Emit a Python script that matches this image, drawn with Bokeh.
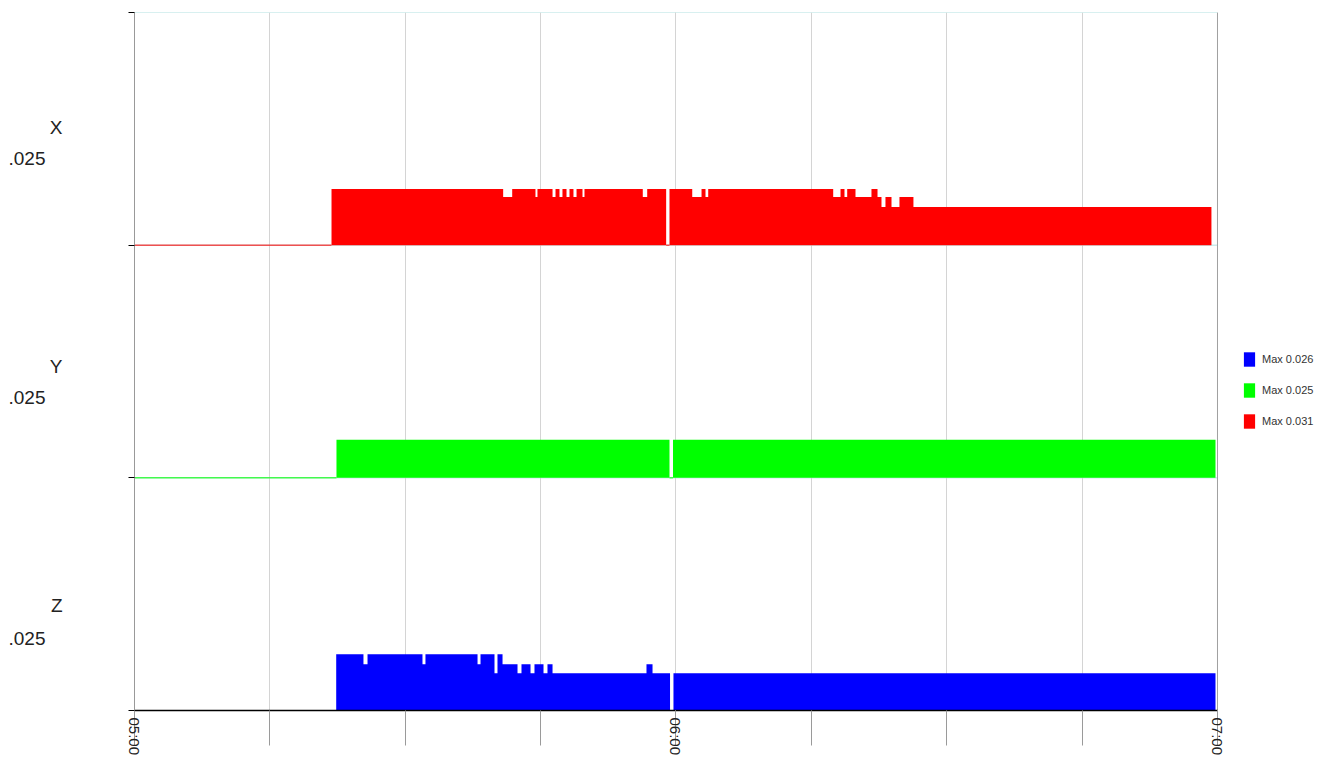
import datetime as dt
from bokeh.plotting import figure
from bokeh.models import (Range1d, FixedTicker, DatetimeTickFormatter, ColumnDataSource,
                          Legend, LegendItem, LinearAxis, CustomJSTickFormatter)
from bokeh.embed import file_html
from bokeh.resources import INLINE

# ---------------- data (minutes after 05:00) ----------------
START = dt.datetime(2024, 1, 1, 5, 0)
END_MINUTES = 120
VIEW_END_MINUTES = 132.19   # frame extends right to hold the legend
major_tick_minutes = [0, 60, 120]
minor_tick_minutes = [0, 15, 30, 45, 60, 75, 90, 105, 120]

bands = ["X", "Y", "Z"]
band_colors = ["#ff0000", "#00ff00", "#0000ff"]
band_value_text = [".025", ".025", ".025"]
band_span = 0.1284

red_edges = [0, 21.83, 40.85, 41.85, 44.43, 44.65, 46.32, 46.65, 47.09, 47.42, 47.87, 48.20,
             48.64, 48.98, 49.64, 49.86, 56.32, 56.81, 58.91, 59.28, 61.80, 62.83, 63.27, 63.57,
             77.42, 78.23, 78.67, 78.97, 79.89, 81.66, 82.33, 82.77, 83.21, 83.88, 84.76, 86.31,
             119.33]
red_values = [0, 0.031, 0.0266, 0.031, 0.0266, 0.031, 0.0266, 0.031, 0.0266, 0.031, 0.0266, 0.031,
              0.0266, 0.031, 0.0266, 0.031, 0.0266, 0.031, 0, 0.031, 0.0266, 0.031, 0.0266, 0.031,
              0.0266, 0.031, 0.0266, 0.031, 0.0266, 0.031, 0.0266, 0.021, 0.0266, 0.021, 0.0266, 0.021]

green_edges = [0, 22.38, 59.28, 59.67, 119.78]
green_values = [0, 0.021, 0, 0.021]

blue_edges = [0, 22.35, 25.37, 25.82, 31.91, 32.24, 38.01, 38.34, 39.89, 40.22, 40.78, 42.44,
              42.88, 43.88, 44.32, 45.32, 45.76, 46.32, 56.73, 57.40, 59.34, 59.72, 119.78]
blue_values = [0, 0.031, 0.0255, 0.031, 0.0255, 0.031, 0.0255, 0.031, 0.0205, 0.031, 0.0255, 0.0205,
               0.0255, 0.0205, 0.0255, 0.0205, 0.0255, 0.0205, 0.0255, 0.0205, 0, 0.0205]

legend_labels = ["Max 0.031", "Max 0.025", "Max 0.026"]

series_edges = [red_edges, green_edges, blue_edges]
series_values = [red_values, green_values, blue_values]

# label heights above band baseline (value units)
name_label_y = [0.065, 0.0613, 0.058]
value_label_y = [0.0476, 0.0443, 0.040]


def to_dt(m):
    return START + dt.timedelta(minutes=m)


def to_ms(m):
    return (START - dt.datetime(1970, 1, 1)).total_seconds() * 1000 + m * 60000


# ---------------- figure ----------------
p = figure(width=1327, height=776, x_axis_type="datetime",
           x_range=Range1d(to_dt(0), to_dt(VIEW_END_MINUTES)),
           y_range=Range1d(0, 3 * band_span),
           output_backend="svg", toolbar_location=None,
           min_border_left=134, min_border_right=0, min_border_top=12, min_border_bottom=66)
p.outline_line_color = None
p.background_fill_color = "white"
p.border_fill_color = "white"

# x axis
xt = FixedTicker(ticks=[to_ms(m) for m in major_tick_minutes],
                 minor_ticks=[to_ms(m) for m in minor_tick_minutes])
p.xaxis.ticker = xt
p.xaxis.bounds = (to_dt(0), to_dt(END_MINUTES))
p.xaxis.formatter = DatetimeTickFormatter(minutes="%H:%M", hours="%H:%M", hourmin="%H:%M",
                                          minsec="%H:%M", days="%H:%M")
p.xaxis.major_label_orientation = "vertical"
p.xaxis.major_label_text_font = "Liberation Sans"
p.xaxis.major_label_text_font_size = "15px"
p.xaxis.major_label_text_color = "#222222"
p.xaxis.major_tick_out = 35
p.xaxis.major_tick_in = 0
p.xaxis.minor_tick_out = 35
p.xaxis.minor_tick_in = 0
p.xaxis.major_tick_line_color = "#9a9a9a"
p.xaxis.minor_tick_line_color = "#9a9a9a"
p.xaxis.axis_line_color = "black"
p.xaxis.axis_line_width = 1.5
p.xaxis.major_label_standoff = -28

p.xgrid.grid_line_color = "#d4d4d4"
p.xgrid.minor_grid_line_color = "#d4d4d4"
p.ygrid.visible = False

# main y axis: ticks at band boundaries, no labels
p.yaxis.ticker = FixedTicker(ticks=[i * band_span for i in range(4)], minor_ticks=[])
p.yaxis.formatter = CustomJSTickFormatter(code="return ''")
p.yaxis.major_label_standoff = 0
p.yaxis.major_tick_out = 6
p.yaxis.major_tick_in = 0
p.yaxis.major_tick_line_color = "black"
p.yaxis.axis_line_color = "#999999"
p.yaxis.minor_tick_line_color = None

# band name axis (X / Y / Z) and value axis (.025)
n = len(bands)
name_ticks = [(n - 1 - i) * band_span + name_label_y[i] for i in range(n)][::-1]
name_labels = bands[::-1]
value_ticks = [(n - 1 - i) * band_span + value_label_y[i] for i in range(n)][::-1]
value_labels = band_value_text[::-1]

name_axis = LinearAxis(ticker=FixedTicker(ticks=name_ticks, minor_ticks=[]),
                       formatter=CustomJSTickFormatter(args=dict(labels=name_labels),
                                                       code="return labels[index]"),
                       axis_line_color=None, major_tick_line_color=None,
                       minor_tick_line_color=None, major_tick_out=0, major_tick_in=0,
                       major_label_standoff=66,
                       major_label_text_font="Liberation Sans",
                       major_label_text_font_size="19px", major_label_text_color="#222222")
p.add_layout(name_axis, "left")
value_axis = LinearAxis(ticker=FixedTicker(ticks=value_ticks, minor_ticks=[]),
                        formatter=CustomJSTickFormatter(args=dict(labels=value_labels),
                                                        code="return labels[index]"),
                        axis_line_color=None, major_tick_line_color=None,
                        minor_tick_line_color=None, major_tick_out=0, major_tick_in=0,
                        major_label_standoff=1,
                        major_label_text_font="Liberation Sans",
                        major_label_text_font_size="19px", major_label_text_color="#222222")
p.add_layout(value_axis, "left")

# teal band borders (limited to the time span)
border_levels = [i * band_span for i in range(1, 4)]
p.segment(x0=[to_dt(0)] * 3, x1=[to_dt(END_MINUTES)] * 3, y0=border_levels, y1=border_levels,
          line_color="#b2e2e2", line_width=1, level="underlay")

renderers = []
for i, name in enumerate(bands):
    base = (n - 1 - i) * band_span
    edges = series_edges[i]
    vals = series_values[i]
    xs = [to_dt(m) for m in edges]
    y2 = [base + v for v in vals] + [base + vals[-1]]
    src = ColumnDataSource(dict(x=xs, y1=[base] * len(xs), y2=y2))
    r = p.varea_step(x="x", y1="y1", y2="y2", step_mode="after", source=src,
                     fill_color=band_colors[i])
    renderers.append(r)
    zx0 = [to_dt(edges[k]) for k, v in enumerate(vals) if v == 0]
    zx1 = [to_dt(edges[k + 1]) for k, v in enumerate(vals) if v == 0]
    p.segment(x0=zx0, x1=zx1, y0=[base] * len(zx0), y1=[base] * len(zx0),
              line_color=band_colors[i], line_width=1)

# right edge line of the chart area
p.segment(x0=[to_dt(END_MINUTES)], x1=[to_dt(END_MINUTES)], y0=[0], y1=[3 * band_span],
          line_color="#a0a0a0", line_width=1)

legend = Legend(items=[LegendItem(label=legend_labels[2], renderers=[renderers[2]]),
                       LegendItem(label=legend_labels[1], renderers=[renderers[1]]),
                       LegendItem(label=legend_labels[0], renderers=[renderers[0]])],
                location=(1242 - 134, 710 - 430), orientation="vertical",
                padding=0, margin=0, spacing=13, glyph_width=14, glyph_height=18,
                label_height=18, label_standoff=6,
                label_text_font="Liberation Sans", label_text_font_size="11px",
                label_text_color="#333333",
                border_line_color=None, background_fill_alpha=0)
p.add_layout(legend)

open("out.html", "w").write(file_html(p, INLINE))
